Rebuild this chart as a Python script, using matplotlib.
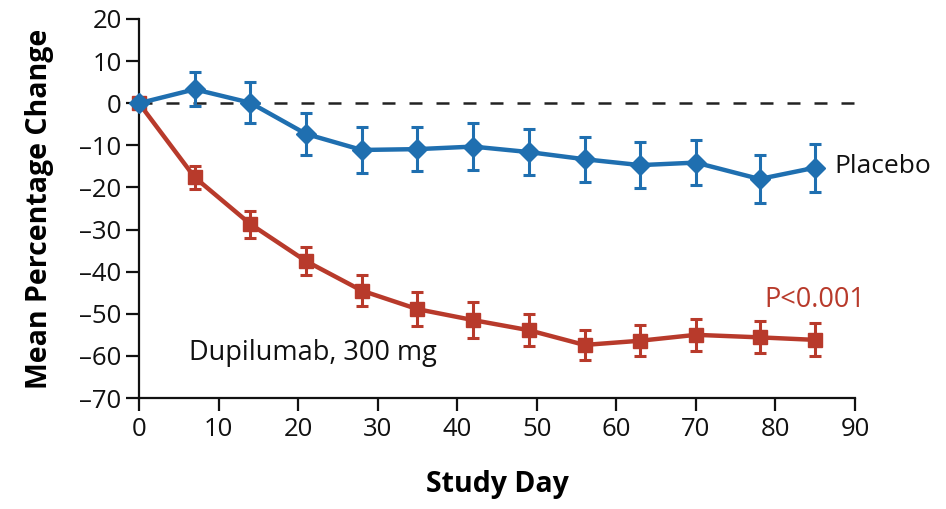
import matplotlib
matplotlib.use("Agg")
import matplotlib.pyplot as plt

days = [0, 7, 14, 21, 28, 35, 42, 49, 56, 63, 70, 78, 85]
placebo = [0, 3.3, 0.1, -7.3, -11.1, -10.9, -10.3, -11.6, -13.3, -14.7, -14.1, -18.0, -15.3]
placebo_err = [0, 4.0, 4.9, 4.9, 5.4, 5.3, 5.6, 5.4, 5.3, 5.4, 5.3, 5.6, 5.7]
dupi = [0, -17.6, -28.7, -37.5, -44.5, -48.9, -51.5, -53.9, -57.4, -56.4, -55.0, -55.6, -56.2]
dupi_err = [0, 2.7, 3.2, 3.3, 3.7, 4.1, 4.2, 3.8, 3.5, 3.7, 3.8, 3.8, 3.9]
xticks = [0, 10, 20, 30, 40, 50, 60, 70, 80, 90]
yticks = [20, 10, 0, -10, -20, -30, -40, -50, -60, -70]

BLUE = "#1f6fb0"
RED = "#b83a2b"

plt.rcParams['font.family'] = ['Open Sans', 'DejaVu Sans']

fig = plt.figure(figsize=(9.46, 5.09), dpi=100)
ax = fig.add_axes([139/946, 1-398/509, (855-139)/946, (398-19)/509])

ax.plot([0, 90], [0, 0], linestyle=(0, (5.2, 5.6)), color="#222222", lw=1.8, zorder=1)

ax.errorbar(days, dupi, yerr=dupi_err, color=RED, lw=3.2, marker='s', ms=10,
            elinewidth=2.2, capsize=4.5, capthick=2.2, zorder=3, clip_on=False)
ax.errorbar(days, placebo, yerr=placebo_err, color=BLUE, lw=3.2, marker='D', ms=10,
            elinewidth=2.2, capsize=4.5, capthick=2.2, zorder=4, clip_on=False)

ax.set_xlim(0, 90)
ax.set_ylim(-70, 20)
ax.set_xticks(xticks)
ax.set_yticks(yticks)
ax.set_yticklabels([str(v).replace('-', '\u2013') for v in yticks])
ax.tick_params(axis='both', direction='out', length=9.5, width=1.6, labelsize=18.5, color='#111111', labelcolor='#111111')
ax.tick_params(axis='x', pad=4)
ax.tick_params(axis='y', pad=3)
for s in ['top', 'right']:
    ax.spines[s].set_visible(False)
for s in ['left', 'bottom']:
    ax.spines[s].set_linewidth(1.6)
    ax.spines[s].set_color('#111111')

ax.set_xlabel("Study Day", fontsize=20.5, fontweight='bold', labelpad=20)
ax.set_ylabel("Mean Percentage Change", fontsize=20.5, fontweight='bold', labelpad=18)

ax.text(87.4, -15, "Placebo", fontsize=19, color='#111111', va='center', ha='left')
ax.text(78.6, -46.7, "P<0.001", fontsize=19.5, color=RED, va='center', ha='left')
ax.text(6.3, -59.3, "Dupilumab, 300 mg", fontsize=19.5, color='#111111', va='center', ha='left')

fig.savefig("out.png", dpi=100)
